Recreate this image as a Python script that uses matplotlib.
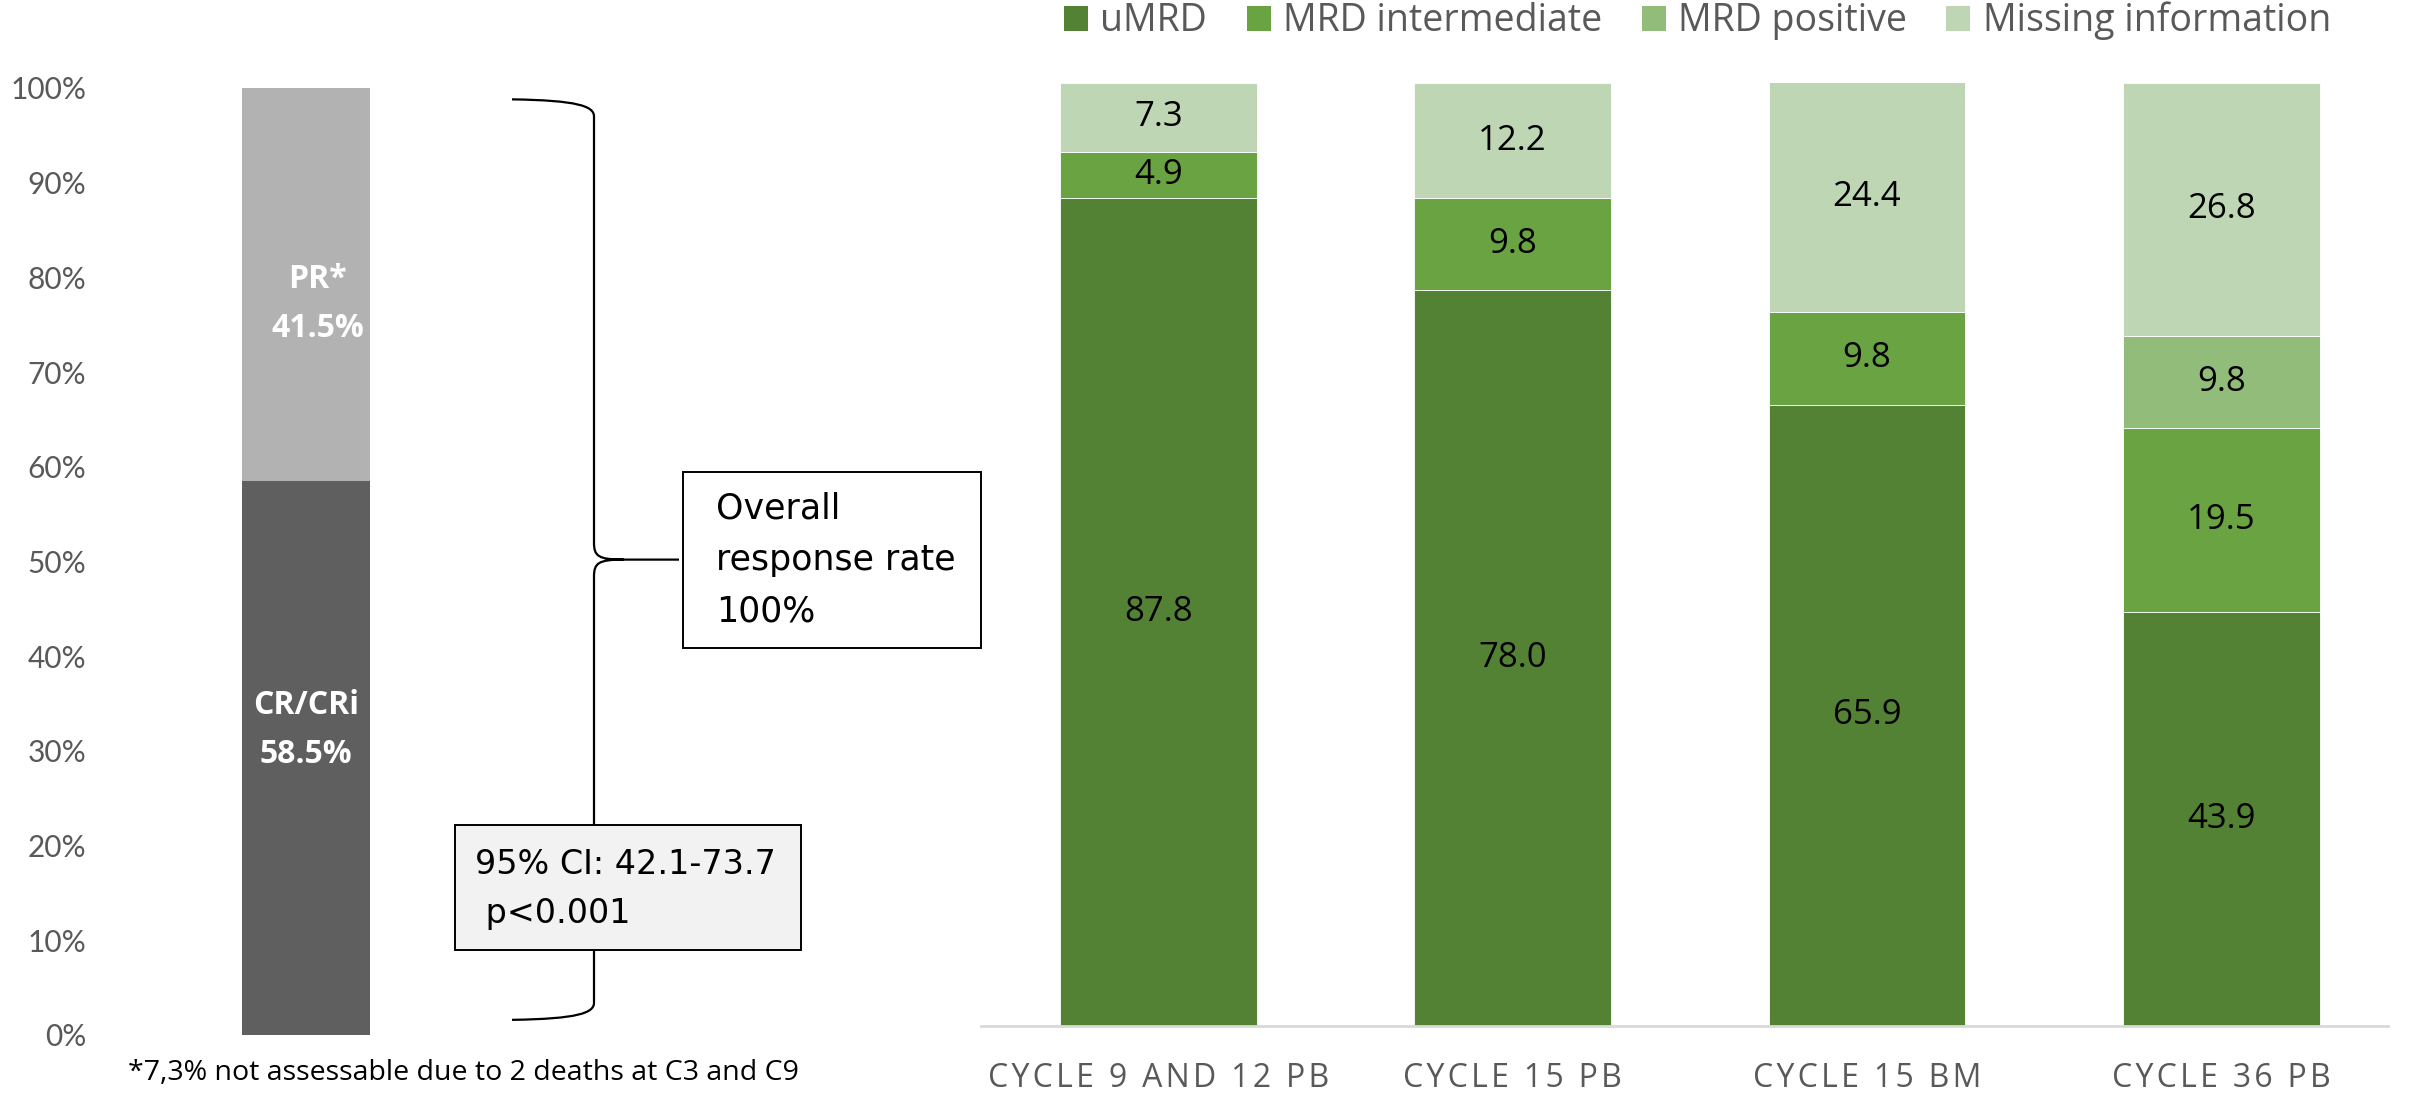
import matplotlib.pyplot as plt
import numpy as np
from matplotlib.patches import Patch, PathPatch, Rectangle
from matplotlib.path import Path
from matplotlib.transforms import blended_transform_factory

# overall response (left bar)
resp_labels = ["CR/CRi", "PR*"]
resp_values = [58.5, 41.5]
resp_colors = ["#5f5f5f", "#b2b2b2"]

# MRD status per timepoint (right chart)
timepoints = ["CYCLE 9 AND 12 PB", "CYCLE 15 PB", "CYCLE 15 BM", "CYCLE 36 PB"]
umrd = [87.8, 78.0, 65.9, 43.9]
mrd_int = [4.9, 9.8, 9.8, 19.5]
mrd_pos = [0.0, 0.0, 0.0, 9.8]
missing = [7.3, 12.2, 24.4, 26.8]
series_names = ["uMRD", "MRD intermediate", "MRD positive", "Missing information"]
series_colors = ["#548235", "#69a342", "#92bc7a", "#bfd6b4"]

W, H = 2419, 1095
fig = plt.figure(figsize=(W / 100, H / 100), dpi=100)
grey = "#595959"


def fx(px):
    return px / W


def fy(px):
    return 1 - px / H


# ---- left: overall response bar ----
axl = fig.add_axes([fx(242), fy(1035), fx(128), (1035 - 88) / H])
bottom = 0
for lab, val, col in zip(resp_labels, resp_values, resp_colors):
    axl.bar(0, val, width=1, bottom=bottom, color=col, linewidth=0)
    bottom += val
axl.set_xlim(-0.5, 0.5)
axl.set_ylim(0, 100)
axl.set_xticks([])
axl.set_yticks(np.arange(0, 101, 10))
axl.set_yticklabels([f"{v}%" for v in range(0, 101, 10)], fontsize=21.5,
                    color=grey, family="Lato")
axl.tick_params(axis="y", length=0, pad=112)
for s in axl.spines.values():
    s.set_visible(False)

cr, pr = resp_values
axl.text(0.09, cr + pr * 0.45, f"PR*\n{pr}%", ha="center", va="center",
         color="white", fontsize=23, fontweight="bold", family="Open Sans",
         linespacing=1.65)
axl.text(0.0, cr * 0.55, f"CR/CRi\n{cr}%", ha="center", va="center",
         color="white", fontsize=23, fontweight="bold", family="Open Sans",
         linespacing=1.65)

# curly brace spanning the whole bar
tr = blended_transform_factory(fig.transFigure, axl.transData)
x0, x1, x2 = fx(512), fx(594), fx(679)
xm = x1 + 0.35 * (x2 - x1)
hi, lo = sum(resp_values) - 1.2, 1.6
mid = (hi + lo) / 2
r = 1.8
verts = [
    (x0, hi), (x0 + 0.8 * (x1 - x0), hi - 0.1), (x1, hi - 0.4 * r), (x1, hi - r),
    (x1, mid + r), (x1, mid + 0.2 * r), (x1 + 0.05 * (x2 - x1), mid), (xm, mid),
    (x2, mid),
    (x0, lo), (x0 + 0.8 * (x1 - x0), lo + 0.1), (x1, lo + 0.4 * r), (x1, lo + r),
    (x1, mid - r), (x1, mid - 0.2 * r), (x1 + 0.05 * (x2 - x1), mid), (xm, mid),
]
codes = [Path.MOVETO, Path.CURVE4, Path.CURVE4, Path.CURVE4,
         Path.LINETO, Path.CURVE4, Path.CURVE4, Path.CURVE4,
         Path.LINETO,
         Path.MOVETO, Path.CURVE4, Path.CURVE4, Path.CURVE4,
         Path.LINETO, Path.CURVE4, Path.CURVE4, Path.CURVE4]
axl.add_patch(PathPatch(Path(verts, codes), transform=tr, fill=False,
                        lw=1.6, color="black", clip_on=False))

# text boxes
fig.patches.append(Rectangle((fx(683), fy(648)), fx(981 - 683), (648 - 472) / H,
                             transform=fig.transFigure, facecolor="white",
                             edgecolor="black", lw=1.4))
fig.text(fx(716), fy(560), "Overall\nresponse rate\n100%", ha="left", va="center",
         fontsize=25, color="black", linespacing=1.65)
fig.patches.append(Rectangle((fx(455), fy(950)), fx(801 - 455), (950 - 825) / H,
                             transform=fig.transFigure, facecolor="#f2f2f2",
                             edgecolor="black", lw=1.4, zorder=3))
fig.text(fx(475), fy(889), "95% CI: 42.1-73.7\n p<0.001", ha="left", va="center",
         fontsize=24, color="black", linespacing=1.6, zorder=4)

fig.text(fx(128), fy(1073), "*7,3% not assessable due to 2 deaths at C3 and C9",
         ha="left", va="center", fontsize=20.5, family="Open Sans", color="black")

# ---- right: MRD stacked bars ----
axr = fig.add_axes([fx(981), fy(1026), fx(2388 - 981), (1026 - 83) / H])
x = np.arange(len(timepoints))
base = np.zeros(len(timepoints))
for name, vals, col in zip(series_names, [umrd, mrd_int, mrd_pos, missing], series_colors):
    vals = np.array(vals)
    axr.bar(x, vals, width=0.555, bottom=base, color=col, edgecolor="white",
            linewidth=0.6, label=name)
    for xi, b, v in zip(x, base, vals):
        if v > 0:
            axr.text(xi, b + v / 2, f"{v:.1f}", ha="center", va="center",
                     fontsize=25, color="black", family="Open Sans")
    base += vals

axr.set_xlim(-0.5, 3.47)
axr.set_ylim(0, 100)
axr.set_yticks([])
axr.set_xticks(x)
axr.set_xticklabels(["\u200a".join(t) for t in timepoints], fontsize=23,
                    color=grey, family=["Open Sans", "DejaVu Sans"])
axr.tick_params(axis="x", length=0, pad=26)
for s in ["top", "left", "right"]:
    axr.spines[s].set_visible(False)
axr.spines["bottom"].set_color("#d9d9d9")
axr.spines["bottom"].set_linewidth(2)

handles = [Patch(facecolor=c, label=n) for n, c in zip(series_names, series_colors)]
fig.legend(handles=handles, loc="center left", bbox_to_anchor=(fx(1064), fy(21)),
           ncol=4, frameon=False, borderpad=0, borderaxespad=0,
           handlelength=0.64, handleheight=0.64, handletextpad=0.33,
           columnspacing=1.05, prop={"family": "Open Sans", "size": 27},
           labelcolor=grey)

fig.savefig("out.png", dpi=100)
